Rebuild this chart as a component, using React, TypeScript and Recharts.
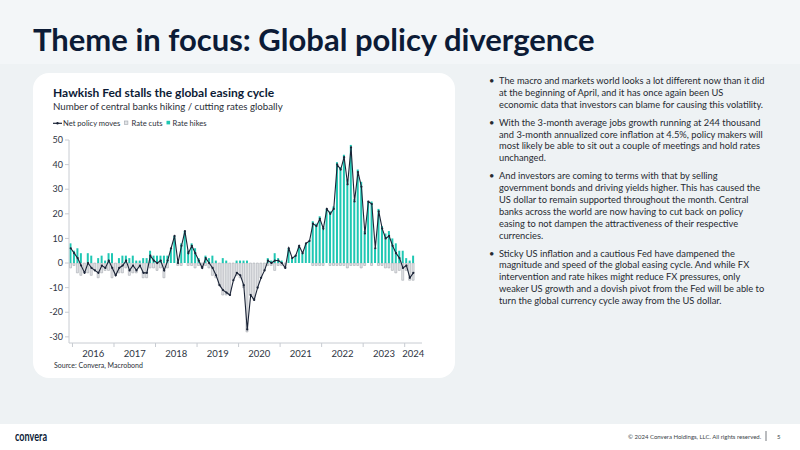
import React from 'react';
import { ComposedChart, Bar, Line, XAxis, YAxis } from 'recharts';

// Monthly observations, December 2015 to May 2024 (April/May 2024 not published yet)
const FIRST_YEAR = 2015;
const FIRST_MONTH = 12;
const MONTH_COUNT = 102;

const months: string[] = Array.from({ length: MONTH_COUNT }, (_, i) => {
  const n = FIRST_MONTH - 1 + i;
  const y = FIRST_YEAR + Math.floor(n / 12);
  const m = (n % 12) + 1;
  return `${y}-${String(m).padStart(2, '0')}`;
});

const rateHikes: (number | null)[] = [
  8, 5, 6, 4, 0, 4, 3, 0, 2, 3,
  1, 4, 4, 0, 2, 3, 3, 2, 3, 1,
  1, 2, 2, 5, 3, 3, 3, 3, 3, 6,
  11, 1, 8, 13, 5, 8, 6, 2, 0, 3,
  2, 3, 1, 0, 2, 1, 0, 0, 1, 1,
  1, 1, 0, 0, 0, 0, 0, 2, 1, 4,
  2, 1, 0, 6, 2, 3, 7, 4, 8, 9,
  17, 16, 19, 15, 22, 21, 23, 41, 39, 44,
  34, 48, 26, 38, 33, 13, 25, 25, 6, 22,
  15, 12, 13, 10, 8, 5, 5, 2, 1, 3,
  null, null,
];

const rateCuts: (number | null)[] = [
  -2, -1, -4, -5, -4, -4, -5, -3, -6, -4,
  -3, -3, -6, -5, -4, -4, -2, -5, -4, -4,
  -2, -6, -6, -2, -2, -3, -2, -6, -2, 0,
  0, -1, -1, 0, -1, -1, -2, -1, -2, -1,
  -2, -5, -6, -9, -13, -13, -13, -7, -5, -6,
  -10, -28, -13, -15, -10, -6, -3, -1, -1, -3,
  -1, -1, -2, 0, 0, 0, 0, 0, 0, 0,
  -1, -1, -1, -1, 0, -1, -1, -1, -1, -1,
  -2, -1, -1, -1, -2, -1, 0, -1, 0, -1,
  -1, -2, -2, -3, -4, -3, -7, -3, -7, -7,
  null, null,
];

const netMoves: (number | null)[] = [
  6, 4, 2, -1, -4, 0, -2, -3, -4, -1,
  -2, 1, -2, -5, -2, -1, 1, -3, -1, -3,
  -1, -4, -4, 3, 1, 0, 1, -3, 1, 6,
  11, 0, 7, 13, 4, 7, 4, 1, -2, 2,
  0, -2, -5, -9, -11, -12, -13, -7, -4, -5,
  -9, -27, -13, -15, -10, -6, -3, 1, 0, 1,
  1, 0, -2, 6, 2, 3, 7, 4, 8, 9,
  16, 15, 18, 14, 22, 20, 22, 40, 38, 43,
  32, 47, 25, 37, 31, 12, 25, 24, 6, 21,
  14, 10, 11, 7, 4, 2, -2, -1, -6, -4,
  null, null,
];

const years = ['2016', '2017', '2018', '2019', '2020', '2021', '2022', '2023', '2024'];
const yTicks = [-30, -20, -10, 0, 10, 20, 30, 40, 50];

const bullets: string[][] = [
  [
    'The macro and markets world looks a lot different now than it did',
    'at the beginning of April, and it has once again been US',
    'economic data that investors can blame for causing this volatility.',
  ],
  [
    'With the 3-month average jobs growth running at 244 thousand',
    'and 3-month annualized core inflation at 4.5%, policy makers will',
    'most likely be able to sit out a couple of meetings and hold rates',
    'unchanged.',
  ],
  [
    'And investors are coming to terms with that by selling',
    'government bonds and driving yields higher. This has caused the',
    'US dollar to remain supported throughout the month. Central',
    'banks across the world are now having to cut back on policy',
    'easing to not dampen the attractiveness of their respective',
    'currencies.',
  ],
  [
    'Sticky US inflation and a cautious Fed have dampened the',
    'magnitude and speed of the global easing cycle. And while FX',
    'intervention and rate hikes might reduce FX pressures, only',
    'weaker US growth and a dovish pivot from the Fed will be able to',
    'turn the global currency cycle away from the US dollar.',
  ],
];

const data = months.map((month, i) => ({
  month,
  hikes: rateHikes[i],
  cuts: rateCuts[i],
  net: netMoves[i],
}));

// year boundaries get a tick mark, the year name sits in the middle of its months
const lastMonth = months[months.length - 1];
const yearLabelMonth = (y: string) => (y === lastMonth.slice(0, 4) ? `${y}-03` : `${y}-07`);
const xTicks = years.flatMap((y) => [`${y}-01`, yearLabelMonth(y)]);

const FONT = 'Lato, "Open Sans", sans-serif';
const NAVY = '#0c1b36';
const TEAL = '#1fc7b3';
const AXIS = '#c8ccd2';
const CUT_FILL = '#e2e4e7';
const CUT_EDGE = '#9fa4ab';
const HALF_BAND = 1.73;

const YearTick = (props: any) => {
  const { x, y, payload } = props;
  const value: string = payload.value;
  if (value.endsWith('-01')) {
    return <line x1={x - HALF_BAND} x2={x - HALF_BAND} y1={y} y2={y + 4} stroke={AXIS} strokeWidth={1} />;
  }
  const labelX = value.endsWith('-07') ? x - HALF_BAND : x;
  return (
    <text x={labelX} y={y + 13.5} textAnchor="middle" fontSize={9.5} fill="#2e3442" fontFamily={FONT}>
      {value.slice(0, 4)}
    </text>
  );
};

export default function App() {
  const lineStep = 11.85;
  const paraGap = 18;
  let baseline = 84;
  const paragraphs = bullets.map((lines) => {
    const top = baseline;
    baseline += (lines.length - 1) * lineStep + paraGap;
    return { top, lines };
  });

  return (
    <div style={{ position: 'absolute', left: 0, top: 0, width: 800, height: 450, overflow: 'hidden' }}>
      <svg width={800} height={450} style={{ position: 'absolute', left: 0, top: 0 }} fontFamily={FONT}>
        <rect x={0} y={0} width={800} height={450} fill="#eef2f4" />
        <rect x={0} y={0} width={800} height={64} fill="#f3f6f8" />
        <rect x={0} y={424} width={800} height={26} fill="#ffffff" />
        <rect x={33} y={73} width={422} height={305} rx={16} fill="#ffffff" />

        <text x={33} y={51} fontSize={31} fontWeight={700} fill={NAVY}>
          Theme in focus: Global policy divergence
        </text>

        <text x={53} y={97} fontSize={12} fontWeight={700} fill={NAVY}>
          Hawkish Fed stalls the global easing cycle
        </text>
        <text x={53} y={109.5} fontSize={9.7} fill="#2b2f38">
          Number of central banks hiking / cutting rates globally
        </text>

        {/* legend */}
        <g fontSize={7.6} fill="#2b2f38">
          <line x1={53} x2={62} y1={123.3} y2={123.3} stroke="#1b2437" strokeWidth={1.2} />
          <circle cx={57.5} cy={123.3} r={1.2} fill="#1b2437" />
          <text x={63} y={126}>Net policy moves</text>
          <rect x={124.5} y={121} width={3.4} height={3.4} fill={CUT_FILL} stroke={CUT_EDGE} strokeWidth={0.6} />
          <text x={131.5} y={126}>Rate cuts</text>
          <rect x={166.5} y={120.8} width={3.6} height={3.6} fill={TEAL} />
          <text x={172.5} y={126}>Rate hikes</text>
        </g>

        <text x={54} y={368} fontSize={7} fill="#2b2f38">
          Source: Convera, Macrobond
        </text>

        {paragraphs.map((p, pi) => (
          <g key={pi} fontSize={9.3} fill="#262a31">
            <text x={489} y={p.top}>•</text>
            {p.lines.map((line, li) => (
              <text key={li} x={499} y={p.top + li * lineStep}>
                {line}
              </text>
            ))}
          </g>
        ))}

        <text x={15} y={441} fontSize={12.5} fontWeight={700} fill={NAVY} textLength={32} lengthAdjust="spacingAndGlyphs">
          convera
        </text>
        <text x={628} y={439} fontSize={6} fill="#3a3f48">
          © 2024 Convera Holdings, LLC. All rights reserved.
        </text>
        <line x1={766} x2={766} y1={431} y2={441} stroke="#3a3f48" strokeWidth={0.7} />
        <text x={777} y={439} fontSize={6} fill="#3a3f48">
          5
        </text>
      </svg>

      <div style={{ position: 'absolute', left: 39, top: 130 }}>
        <ComposedChart
          width={392}
          height={233}
          data={data}
          stackOffset="sign"
          barCategoryGap="14%"
          margin={{ top: 10, right: 9, bottom: 0, left: 0 }}
        >
          <XAxis
            dataKey="month"
            ticks={xTicks}
            interval={0}
            tickLine={false}
            tickSize={0}
            tickMargin={0}
            height={20}
            axisLine={{ stroke: AXIS }}
            tick={YearTick}
          />
          <YAxis
            type="number"
            domain={[-32.5, 50]}
            ticks={yTicks}
            interval={0}
            width={30}
            tickSize={4}
            tickMargin={2}
            axisLine={{ stroke: AXIS }}
            tickLine={{ stroke: AXIS }}
            tick={{ fontSize: 9, fill: '#2e3442', fontFamily: FONT }}
          />
          <Bar dataKey="cuts" stackId="m" fill={CUT_FILL} stroke={CUT_EDGE} strokeWidth={0.55} isAnimationActive={false} />
          <Bar dataKey="hikes" stackId="m" fill={TEAL} isAnimationActive={false} />
          <Line
            type="linear"
            dataKey="net"
            stroke="#1b2437"
            strokeWidth={1.1}
            dot={{ r: 1.1, fill: '#1b2437', stroke: 'none' }}
            isAnimationActive={false}
          />
        </ComposedChart>
      </div>
    </div>
  );
}
